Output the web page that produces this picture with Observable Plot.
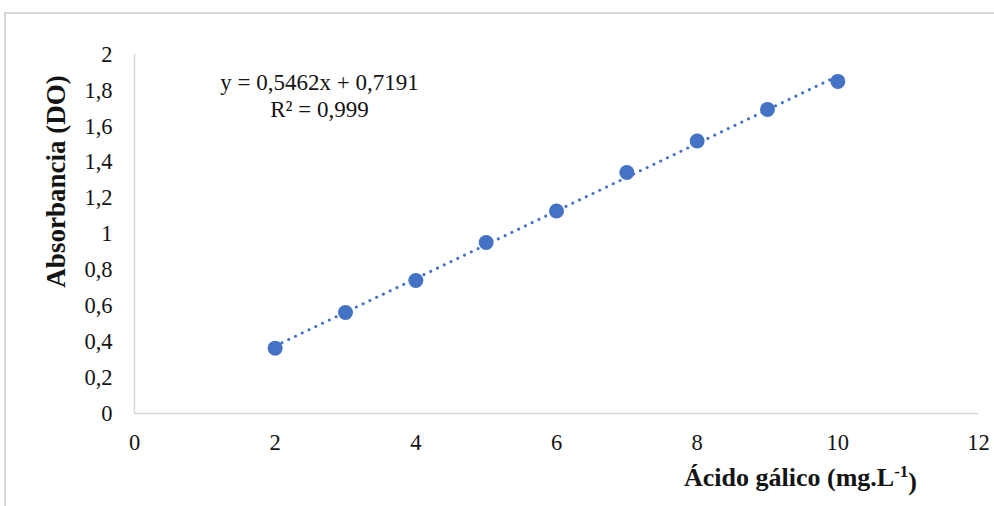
<!DOCTYPE html>
<html>
<head>
<meta charset="utf-8">
<script src="https://cdn.jsdelivr.net/npm/d3@7"></script>
<script src="https://cdn.jsdelivr.net/npm/@observablehq/plot@0.6"></script>
<style>
  html, body { margin: 0; padding: 0; background: #fff; overflow: hidden; width: 994px; height: 506px; }
  #wrap { position: relative; width: 994px; height: 506px; }
  #border { position: absolute; left: 4px; top: 12px; width: 2000px; height: 2000px; border: 2px solid #d9d9d9; box-sizing: border-box; }
  #chart { position: absolute; left: 0; top: 0; }
</style>
</head>
<body>
<div id="wrap"><div id="border"></div><div id="chart"></div></div>
<script>
const concentration = [2, 3, 4, 5, 6, 7, 8, 9, 10];
const absorbance = [0.364, 0.563, 0.741, 0.953, 1.128, 1.343, 1.518, 1.694, 1.850];
const xTicks = [0, 2, 4, 6, 8, 10, 12];
const yTicks = [0, 0.2, 0.4, 0.6, 0.8, 1, 1.2, 1.4, 1.6, 1.8, 2];
const equationText = "y = 0,5462x + 0,7191\nR² = 0,999";
const xTitle = "Ácido gálico (mg.L-1)";
const yTitle = "Absorbancia (DO)";

const data = concentration.map((c, i) => ({x: c, y: absorbance[i]}));
const fmt = d => String(d).replace(".", ",");
const blue = "#4472C4";
const ink = "#141414";
const font = "'Liberation Serif', 'Times New Roman', serif";

const chart = Plot.plot({
  width: 994,
  height: 506,
  marginLeft: 134,
  marginRight: 16,
  marginTop: 54,
  marginBottom: 93,
  style: {fontFamily: font, fontSize: "22px", color: ink, background: "transparent"},
  x: {domain: [0, 12]},
  y: {domain: [0, 2]},
  marks: [
    Plot.ruleY([0], {stroke: "#d9d9d9", strokeWidth: 1.5}),
    Plot.ruleX([0], {stroke: "#d9d9d9", strokeWidth: 1.5}),
    Plot.axisX(xTicks, {tickSize: 0, tickPadding: 21, label: null, tickFormat: fmt, fontSize: 22.5, fill: ink}),
    Plot.axisY(yTicks, {tickSize: 0, tickPadding: 22, label: null, tickFormat: fmt, fontSize: 22.5, fill: ink}),
    Plot.linearRegressionY(data, {x: "x", y: "y", ci: 0, stroke: blue, strokeWidth: 3, strokeDasharray: "0.1 7.4", strokeLinecap: "round"}),
    Plot.dot(data, {x: "x", y: "y", r: 7.5, fill: blue, stroke: "none"}),
    Plot.text([equationText], {frameAnchor: "top-left", dx: 185, dy: 40.5, textAnchor: "middle", lineAnchor: "middle", lineHeight: 1.17, fontSize: 23, fill: ink}),
    Plot.text([yTitle], {frameAnchor: "left", rotate: -90, dx: -78, dy: -52.5, textAnchor: "middle", fontWeight: "bold", fontSize: 27, fill: ink, lineAnchor: "middle", className: "ytitle"}),
    Plot.text([xTitle], {frameAnchor: "bottom", dx: 244, dy: 64, textAnchor: "middle", fontWeight: "bold", fontSize: 26, fill: ink, lineAnchor: "middle", className: "xtitle"})
  ]
});
document.getElementById("chart").appendChild(chart);

// render the exponent of the x title as a superscript
d3.select(chart).selectAll("g.xtitle text").each(function() {
  const t = d3.select(this);
  t.text("");
  t.append("tspan").text("Ácido gálico (mg.L");
  t.append("tspan").attr("font-size", 17).attr("dy", "-0.5em").text("-1");
  t.append("tspan").attr("dy", "0.5em").text(")");
});
</script>
</body>
</html>
